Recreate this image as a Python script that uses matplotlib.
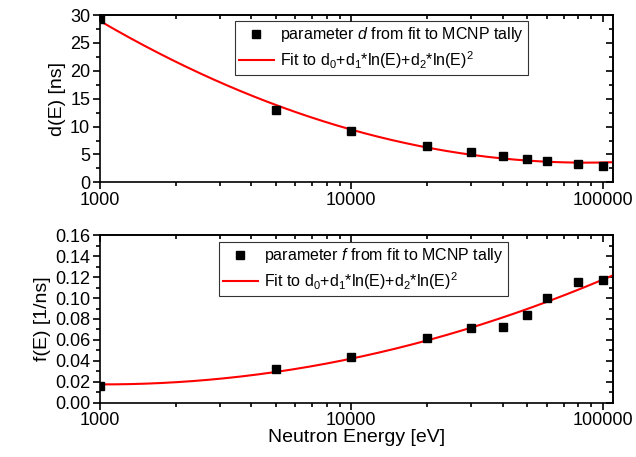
import matplotlib
matplotlib.use("Agg")
import matplotlib.pyplot as plt
import numpy as np
from matplotlib.ticker import MultipleLocator, LogLocator, NullFormatter, FixedLocator

plt.rcParams['font.family'] = ['Liberation Sans', 'DejaVu Sans']
plt.rcParams['mathtext.fontset'] = 'custom'
plt.rcParams['mathtext.rm'] = 'Liberation Sans'
plt.rcParams['mathtext.it'] = 'Liberation Sans:italic'

# neutron energies [eV]
energy = [1000, 5000, 10000, 20000, 30000, 40000, 50000, 60000, 80000, 100000]
# parameter d [ns]
d_vals = [29.3, 13.0, 9.2, 6.6, 5.4, 4.7, 4.2, 3.8, 3.3, 3.0]
# parameter f [1/ns]
f_vals = [0.016, 0.032, 0.044, 0.062, 0.071, 0.072, 0.084, 0.100, 0.115, 0.117]

x_ticks = [1000, 10000, 100000]
x_lim = (1000, 110000)

fig = plt.figure(figsize=(6.36, 4.57), dpi=100)
ax1 = fig.add_axes([0.157, 0.601, 0.807, 0.366])
ax2 = fig.add_axes([0.157, 0.119, 0.807, 0.366])

fit_label = 'Fit to d$_0$+d$_1$*ln(E)+d$_2$*ln(E)$^2$'


def draw(ax, yvals, ylim, ystep, yminor, ylabel, name, fmt, legpos):
    e = np.array(energy, dtype=float)
    coef = np.polyfit(np.log(e), yvals, 2)
    xs = np.logspace(np.log10(x_lim[0]), np.log10(x_lim[1]), 300)
    ax.plot(energy, yvals, 's', color='black', markersize=6,
            label='parameter $\\mathit{' + name + '}$ from fit to MCNP tally', zorder=3)
    ax.plot(xs, np.polyval(coef, np.log(xs)), color='red', lw=1.5, label=fit_label)
    ax.set_xscale('log')
    ax.set_xlim(*x_lim)
    ax.set_ylim(*ylim)
    ax.xaxis.set_major_locator(FixedLocator(x_ticks))
    ax.set_xticklabels([str(t) for t in x_ticks])
    ax.xaxis.set_minor_locator(LogLocator(base=10, subs=np.arange(2, 10)))
    ax.xaxis.set_minor_formatter(NullFormatter())
    ax.yaxis.set_major_locator(MultipleLocator(ystep))
    ax.yaxis.set_minor_locator(MultipleLocator(yminor))
    ax.yaxis.set_major_formatter(matplotlib.ticker.FormatStrFormatter(fmt))
    ax.tick_params(which='both', direction='out', labelsize=13, width=1.2, pad=2)
    ax.tick_params(which='major', length=5)
    ax.tick_params(which='minor', length=3)
    for s in ax.spines.values():
        s.set_linewidth(1.2)
    ax.set_ylabel(ylabel, fontsize=14, labelpad=3)
    # mirrored ticks on top / right pointing inward
    top = ax.secondary_xaxis('top')
    top.xaxis.set_major_locator(FixedLocator(x_ticks))
    top.xaxis.set_minor_locator(LogLocator(base=10, subs=np.arange(2, 10)))
    top.tick_params(which='both', direction='in', labeltop=False, width=1.2)
    top.tick_params(which='major', length=5)
    top.tick_params(which='minor', length=3)
    top.spines['top'].set_linewidth(1.2)
    right = ax.secondary_yaxis('right')
    right.yaxis.set_major_locator(MultipleLocator(ystep))
    right.yaxis.set_minor_locator(MultipleLocator(yminor))
    right.tick_params(which='both', direction='in', labelright=False, width=1.2)
    right.tick_params(which='major', length=5)
    right.tick_params(which='minor', length=3)
    right.spines['right'].set_linewidth(1.2)
    leg = ax.legend(loc='upper left', bbox_to_anchor=legpos, fontsize=11.5, frameon=True,
                    fancybox=False, edgecolor='black', handlelength=2.2,
                    handletextpad=0.4, borderpad=0.25, labelspacing=0.3,
                    borderaxespad=0)
    leg.get_frame().set_linewidth(0.8)


draw(ax1, d_vals, (0, 30), 5, 2.5, 'd(E) [ns]', 'd', '%d', (0.263, 0.964))
draw(ax2, f_vals, (0, 0.16), 0.02, 0.01, 'f(E) [1/ns]', 'f', '%.2f', (0.232, 0.958))
ax2.set_xlabel('Neutron Energy [eV]', fontsize=14, labelpad=0)

fig.savefig('out.png', dpi=100)
